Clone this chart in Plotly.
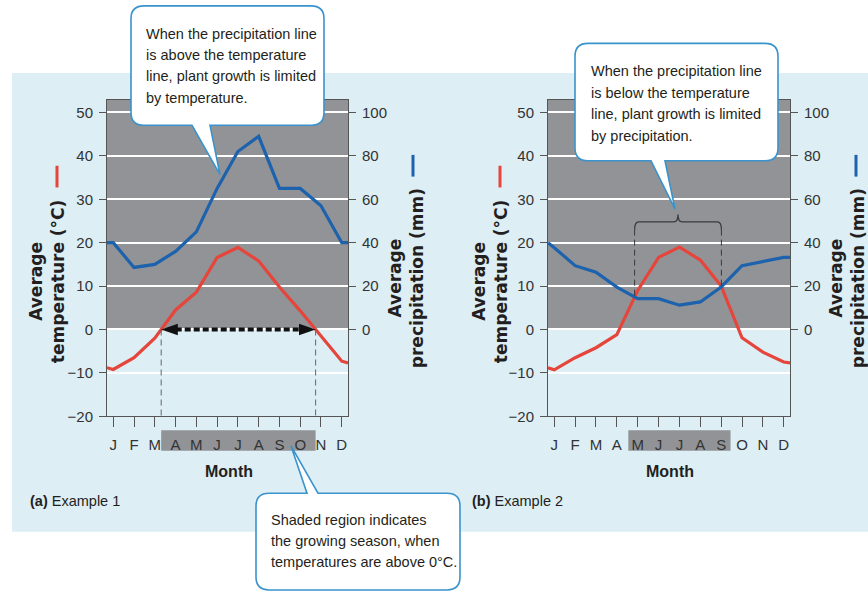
import plotly.graph_objects as go

W, H = 868, 594

# ---------------- data ----------------
months = ["J", "F", "M", "A", "M", "J", "J", "A", "S", "O", "N", "D"]
temp_a = [-9.2, -6.5, -2.0, 4.5, 8.6, 16.6, 18.9, 15.8, 9.8, 4.3, -1.5, -7.3]
precip_a = [40, 28.6, 30, 36, 45, 65, 82, 89, 65, 65, 57, 40]
temp_a_edges = (-8.8, -7.7)
precip_a_edges = (40, 40)

temp_b = [-9.3, -6.5, -4.2, -1.2, 9.0, 16.6, 19.0, 16.0, 10.0, -1.9, -5.2, -7.5]
precip_b = [37.7, 29.4, 26.4, 19.5, 14.2, 14.2, 11.2, 12.7, 19.6, 29.4, 31.4, 33.2]
temp_b_edges = (-8.8, -7.7)
precip_b_edges = (40, 33.2)

temp_ticks = [-20, -10, 0, 10, 20, 30, 40, 50]
precip_ticks = [0, 20, 40, 60, 80, 100]
season_b_months = (4, 8)  # M .. S highlighted in example 2

callout_a = ["When the precipitation line", "is above the temperature",
             "line, plant growth is limited", "by temperature."]
callout_b = ["When the precipitation line", "is below the temperature",
             "line, plant growth is limited", "by precipitation."]
callout_c = ["Shaded region indicates", "the growing season, when",
             "temperatures are above 0°C."]

# ---------------- style ----------------
RED = "#e5453a"
BLUE = "#1c62ad"
GRAY = "#929397"
PANEL = "#ddeef5"
CALL = "#3a93cc"
TXT = "#231f20"
AX = "#555555"
SANS = "Liberation Sans, Arial, sans-serif"
WIDE = "DejaVu Sans, Verdana, sans-serif"

X_LO, X_HI = -0.3, 11.3
T_LO, T_HI = -20, 52.95
xs = [X_LO] + list(range(12)) + [X_HI]


def full(edges, vals):
    return [edges[0]] + list(vals) + [edges[1]]


def crossings(xv, d):
    out = []
    for i in range(len(d) - 1):
        if (d[i] < 0) != (d[i + 1] < 0):
            f = d[i] / (d[i] - d[i + 1])
            out.append(xv[i] + f * (xv[i + 1] - xv[i]))
    return out


def interp(xv, yv, x):
    for i in range(len(xv) - 1):
        if xv[i] <= x <= xv[i + 1]:
            f = (x - xv[i]) / (xv[i + 1] - xv[i])
            return yv[i] + f * (yv[i + 1] - yv[i])
    return yv[-1]


def px(x):
    return x / W


def py(y):
    return 1 - y / H


def P(x, y):
    return f"{px(x):.5f},{py(y):.5f}"


def callout_path(x0, y0, x1, y1, r, tail, side):
    b0, b1, tx, ty = tail
    s = f"M{P(x0 + r, y0)} "
    if side == "top":
        s += f"L{P(b0, y0)} L{P(tx, ty)} L{P(b1, y0)} "
    s += f"L{P(x1 - r, y0)} Q{P(x1, y0)} {P(x1, y0 + r)} "
    s += f"L{P(x1, y1 - r)} Q{P(x1, y1)} {P(x1 - r, y1)} "
    if side == "bottom":
        s += f"L{P(b1, y1)} L{P(tx, ty)} L{P(b0, y1)} "
    s += f"L{P(x0 + r, y1)} Q{P(x0, y1)} {P(x0, y1 - r)} "
    s += f"L{P(x0, y0 + r)} Q{P(x0, y0)} {P(x0 + r, y0)} Z"
    return s


fig = go.Figure()

ta, pa = full(temp_a_edges, temp_a), full(precip_a_edges, precip_a)
tb, pb = full(temp_b_edges, temp_b), full(precip_b_edges, precip_b)

fig.add_trace(go.Scatter(x=xs, y=pa, mode="lines", line=dict(color=BLUE, width=3.2),
                         xaxis="x", yaxis="y2"))
fig.add_trace(go.Scatter(x=xs, y=ta, mode="lines", line=dict(color=RED, width=3.2),
                         xaxis="x", yaxis="y"))
fig.add_trace(go.Scatter(x=xs, y=pb, mode="lines", line=dict(color=BLUE, width=3.2),
                         xaxis="x2", yaxis="y4"))
fig.add_trace(go.Scatter(x=xs, y=tb, mode="lines", line=dict(color=RED, width=3.2),
                         xaxis="x2", yaxis="y3"))

tickfont = dict(family=SANS, size=15, color="#333333")


def xax(dom, anchor):
    return dict(domain=dom, anchor=anchor, range=[X_LO, X_HI], tickmode="array",
                tickvals=list(range(12)), ticktext=months, ticks="outside", ticklen=10,
                tickcolor=AX, showline=True, linecolor=AX, linewidth=1, mirror=True,
                showgrid=False, zeroline=False, tickfont=tickfont, fixedrange=True,
                ticklabelstandoff=5)


def yax(anchor):
    return dict(domain=[py(422), py(101)], anchor=anchor, range=[T_LO, T_HI],
                tickmode="array", tickvals=temp_ticks, ticks="outside", ticklen=7,
                tickcolor=AX, showline=True, linecolor=AX, linewidth=1,
                showgrid=True, gridcolor="white", gridwidth=2, zeroline=False,
                tickfont=tickfont, fixedrange=True, ticklabelstandoff=3)


def yax2(anchor, over):
    return dict(anchor=anchor, overlaying=over, side="right", range=[2 * T_LO, 2 * T_HI],
                tickmode="array", tickvals=precip_ticks, ticks="outside", ticklen=7,
                tickcolor=AX, showline=True, linecolor=AX, linewidth=1, showgrid=False,
                zeroline=False, tickfont=tickfont, fixedrange=True, ticklabelstandoff=3)


fig.update_layout(
    width=W, height=H, autosize=False, margin=dict(l=0, r=0, t=0, b=0),
    paper_bgcolor="white", plot_bgcolor="white", showlegend=False,
    xaxis=xax([px(107), px(348)], "y"),
    yaxis=yax("x"),
    yaxis2=yax2("x", "y"),
    xaxis2=xax([px(548), px(790)], "y3"),
    yaxis3=yax("x2"),
    yaxis4=yax2("x2", "y3"),
)

shapes = []
# light blue panel
shapes.append(dict(type="rect", xref="paper", yref="paper", x0=px(12), x1=1, y0=py(539),
                   y1=py(74), fillcolor=PANEL, line_width=0, layer="below"))

for xr, yr in (("x", "y"), ("x2", "y3")):
    shapes.append(dict(type="rect", xref=xr, yref=yr, x0=X_LO, x1=X_HI, y0=0, y1=T_HI,
                       fillcolor=GRAY, line_width=0, layer="below"))
    shapes.append(dict(type="line", xref=xr, yref=yr, x0=X_LO, x1=X_HI, y0=-10, y1=-10,
                       line=dict(color="#cfcfcf", width=1.5), layer="below"))

# growing season (example 1): temperature above 0
ca = crossings(xs, ta)
shapes.append(dict(type="rect", xref="x", yref="paper", x0=ca[0], x1=ca[1], y0=py(457),
                   y1=py(436), fillcolor=GRAY, line_width=0, layer="below"))
for c in ca:
    shapes.append(dict(type="line", xref="x", yref="y", x0=c, x1=c, y0=0, y1=T_LO,
                       line=dict(color="#666666", width=1, dash="6px,4px"), layer="above"))
shapes.append(dict(type="line", xref="x", yref="y", x0=ca[0] + 0.7, x1=ca[1] - 0.7,
                   y0=0, y1=0, line=dict(color="#111111", width=4, dash="6px,3px"),
                   layer="above"))
for c, d in ((ca[0], 1), (ca[1], -1)):
    path = f"M{c},0 L{c + d * 0.8},1.3 L{c + d * 0.8},-1.3 Z"
    shapes.append(dict(type="path", xref="x", yref="y", path=path, fillcolor="#111111",
                       line_width=0, layer="above"))

# example 2 growing season months box
shapes.append(dict(type="rect", xref="x2", yref="paper", x0=season_b_months[0] - 0.45,
                   x1=season_b_months[1] + 0.45, y0=py(457), y1=py(436), fillcolor=GRAY,
                   line_width=0, layer="below"))

# bracket where temperature exceeds precipitation (in chart units)
diff_b = [t - p / 2 for t, p in zip(tb, pb)]
cb = crossings(xs, diff_b)
mid = (cb[0] + cb[1]) / 2
yb, ya = 24.8, 23.0
bpath = (f"M{cb[0]},{ya} Q{cb[0]},{yb} {cb[0] + 0.2},{yb} L{mid - 0.2},{yb} "
         f"Q{mid},{yb} {mid},{yb + 1.7} Q{mid},{yb} {mid + 0.2},{yb} L{cb[1] - 0.2},{yb} "
         f"Q{cb[1]},{yb} {cb[1]},{ya}")
shapes.append(dict(type="path", xref="x2", yref="y3", path=bpath,
                   line=dict(color="#3a3a3a", width=1.3), layer="above"))
for c in cb:
    shapes.append(dict(type="line", xref="x2", yref="y3", x0=c, x1=c, y0=ya,
                       y1=interp(xs, tb, c), line=dict(color="#3a3a3a", width=1,
                                                        dash="6px,4px"), layer="above"))

# axis-title colour keys
for x, y0, y1, col in ((57, 168, 190, RED), (413, 157, 179, BLUE),
                       (500, 168, 190, RED), (856, 157, 179, BLUE)):
    shapes.append(dict(type="line", xref="paper", yref="paper", x0=px(x), x1=px(x),
                       y0=py(y0), y1=py(y1), line=dict(color=col, width=3), layer="above"))

# callouts
shapes.append(dict(type="path", xref="paper", yref="paper",
                   path=callout_path(131, 6, 324, 127, 13, (192, 210, 220, 177), "bottom"),
                   fillcolor="white", line=dict(color=CALL, width=1.6), layer="above"))
shapes.append(dict(type="path", xref="paper", yref="paper",
                   path=callout_path(575, 44, 778, 163, 13, (651, 665, 675, 212), "bottom"),
                   fillcolor="white", line=dict(color=CALL, width=1.6), layer="above"))
shapes.append(dict(type="path", xref="paper", yref="paper",
                   path=callout_path(256, 500, 460, 598, 13, (307, 318, 291, 452), "top"),
                   fillcolor="white", line=dict(color=CALL, width=1.6), layer="above"))

fig.update_layout(shapes=shapes)

ann = []


def text(x, y, s, font, xanchor="left", angle=0):
    ann.append(dict(xref="paper", yref="paper", x=px(x), y=py(y), text=s, showarrow=False,
                    xanchor=xanchor, yanchor="middle", font=font, textangle=angle))


cf = dict(family=SANS, size=14.5, color=TXT)
for lines, x0, y0, dy in ((callout_a, 144, 34, 21.7), (callout_b, 589, 72, 22),
                          (callout_c, 269, 527, 21.5)):
    for i, s in enumerate(lines):
        text(x0, y0 + i * dy, s, cf)

tf = dict(family=WIDE, size=17, color=TXT, weight="bold")
text(47, 285, "Average<br>temperature (°C)", tf, "center", -90)
text(490, 285, "Average<br>temperature (°C)", tf, "center", -90)
text(406, 282, "Average<br>precipitation (mm)", tf, "center", -90)
text(847, 282, "Average<br>precipitation (mm)", tf, "center", -90)

mf = dict(family=SANS, size=16, color=TXT, weight="bold")
text(229, 478, "Month", mf, "center")
text(670, 478, "Month", mf, "center")

lf = dict(family=SANS, size=14.5, color=TXT)
text(28, 508, "<b>(a)</b> Example 1", lf)
text(470, 508, "<b>(b)</b> Example 2", lf)

fig.update_layout(annotations=ann)

fig.write_html("out.html")
